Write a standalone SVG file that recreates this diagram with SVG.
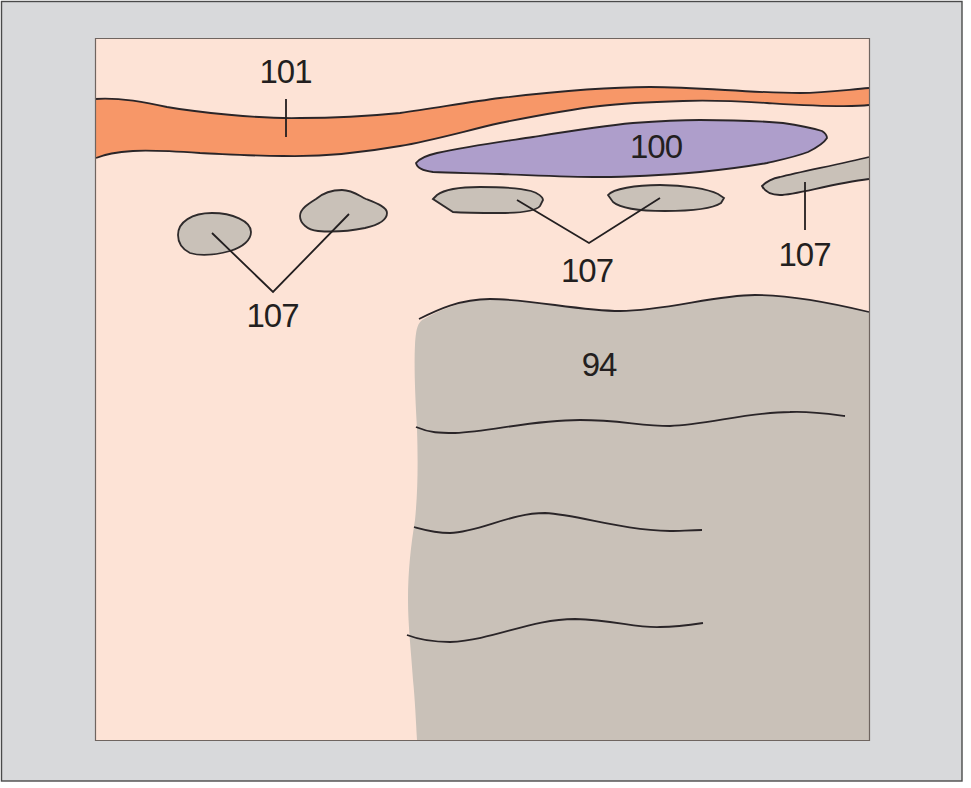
<svg xmlns="http://www.w3.org/2000/svg" width="971" height="788" viewBox="0 0 971 788">
<style>
.o{stroke:#2a2528;stroke-width:1.8;fill:none}
.b{fill:#c9c1b8;stroke:#2f2b2c;stroke-width:1.8}
.l{stroke:#231f20;stroke-width:1.8;fill:none}
text{font-family:"Liberation Sans",Arial,sans-serif;font-size:33px;letter-spacing:-1px;fill:#231f20;text-anchor:middle}
</style>
<rect x="0" y="0" width="971" height="788" fill="#fff"/>
<rect x="1.5" y="1.5" width="960.5" height="779.5" fill="#d8d9db" stroke="#4a4a4a" stroke-width="1.4"/>
<rect x="95.5" y="38.5" width="774" height="702" fill="#fde3d6"/>
<g id="tissue-94">
<path d="M424 319C418 322 416 328 415 345C414 365 415 395 417 428C418 460 418 490 415 520C411 545 408 570 408 600C408 625 411 650 413 680C415 700 416 722 417 740H869V312C840 305 790 295 755 295C715 295 665 311 620 311C580 311 530 299 490 299C465 299 440 310 424 319Z" fill="#c9c1b8"/>
<path class="o" d="M419 319C437 310 460 299 490 299C530 299 580 311 620 311C665 311 715 295 755 295C790 295 840 305 869 312"/>
<path class="o" d="M416 427C430 433 440 433 455 433C490 432 530 420 580 420C620 420 640 426 670 426C705 425 750 412 790 412C810 411 830 414 845 416"/>
<path class="o" d="M414 527C425 530 435 533 450 533C480 532 510 513 545 513C580 515 620 530 670 531C680 531 690 530 702 530"/>
<path class="o" d="M407 635C420 640 435 642 450 642C495 640 530 619 575 619C615 620 635 628 660 627C675 627 690 625 703 623"/>
</g>
<g id="band-101">
<path d="M95 99C120 97 145 102 167 107C195 112 260 119 300 118C340 118 370 116 400 113C435 108 470 102 500 98C550 92 600 87 650 87C700 87 750 93 800 93C825 93 845 90 869 88V105C845 108 800 105 767 103C735 101 710 100 683 101C650 102 625 103 600 106C565 110 530 117 500 123C465 131 430 141 400 146C360 153 320 157 283 156C250 156 225 154 200 153C170 151 150 150 133 151C115 152 105 154 96 158Z" fill="#f79768"/>
<path class="o" d="M95 99C120 97 145 102 167 107C195 112 260 119 300 118C340 118 370 116 400 113C435 108 470 102 500 98C550 92 600 87 650 87C700 87 750 93 800 93C825 93 845 90 869 88"/>
<path class="o" d="M869 105C845 108 800 105 767 103C735 101 710 100 683 101C650 102 625 103 600 106C565 110 530 117 500 123C465 131 430 141 400 146C360 153 320 157 283 156C250 156 225 154 200 153C170 151 150 150 133 151C115 152 105 154 96 158"/>
</g>
<g id="node-100">
<path d="M416 163C420 158 428 155 437 153C470 146 500 142 533 137C570 131 600 126 633 123C660 121 680 120 700 120C730 120 760 121 783 123C797 125 812 128 822 131C825 133 827 136 827 138C824 143 816 148 808 152C795 157 780 160 767 163C745 167 720 170 700 172C665 175 630 177 600 177C565 177 530 175 500 174C475 173 450 173 433 172C425 171 417 168 416 163Z" fill="#ae9ecb" stroke="#2a2528" stroke-width="1.8"/>
<text x="656" y="158">100</text>
</g>
<g id="blob-a"><path class="b" d="M178 235C178 222 192 213 212 213C232 213 251 221 251 232C251 240 243 247 230 251C215 255 200 256 190 253C182 249 178 243 178 235Z"/></g>
<g id="blob-b"><path class="b" d="M300 216C300 209 308 204 316 199C323 193 330 190 342 190C352 190 358 195 366 199C376 203 387 207 387 213C387 220 378 225 365 228C350 231 330 232 318 231C307 230 300 223 300 216Z"/></g>
<g id="blob-c"><path class="b" d="M433 199L437 195C445 189 460 187 480 187C500 187 520 188 531 191C538 193 543 197 543 200L540 206C536 211 520 213 500 213C485 213 465 213 453 212Z"/></g>
<g id="blob-d"><path class="b" d="M608 195C613 189 635 185 660 185C685 185 708 189 718 194L724 198L721 203C712 209 690 211 665 211C640 211 620 208 613 202Z"/></g>
<g id="blob-e"><path d="M869 157C840 164 800 172 780 177C770 179 765 183 762 186C765 192 771 195 780 195C795 195 830 184 869 179Z" fill="#c9c1b8"/><path class="o" d="M869 157C840 164 800 172 780 177C770 179 765 183 762 186C765 192 771 195 780 195C795 195 830 184 869 179"/></g>
<g id="connectors">
<path class="l" d="M286 99V137"/>
<path class="l" d="M212 233L273 292L349 214"/>
<path class="l" d="M517 200L589 243L660 198"/>
<path class="l" d="M805 182V230"/>
</g>
<g id="labels">
<text x="285.500" y="83">101</text>
<text x="272.500" y="327">107</text>
<text x="587" y="282">107</text>
<text x="804.500" y="266">107</text>
<text x="599" y="376">94</text>
</g>
<path d="M95.500 740.500V38.500H869.500V740.500Z" fill="none" stroke="#6f6560" stroke-width="1.2"/>
</svg>
